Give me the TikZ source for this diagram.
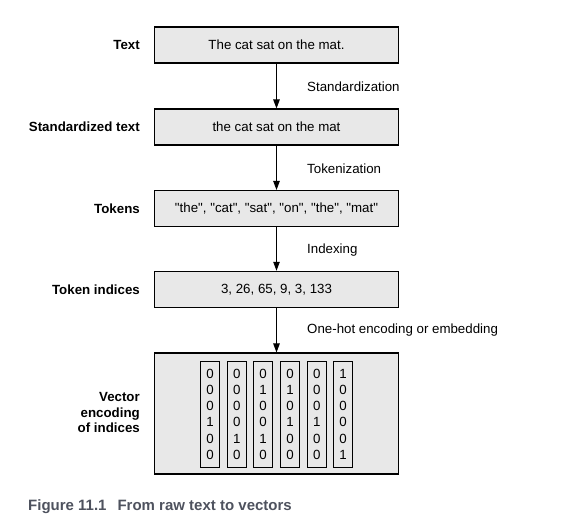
\documentclass[tikz,border=0pt]{standalone}
\usepackage{fontspec}
\setmainfont{Liberation Sans}
\usetikzlibrary{arrows.meta}
\definecolor{boxfill}{RGB}{232,232,232}
\definecolor{capcol}{RGB}{78,82,94}
\newcommand{\qq}[1]{\textquotedbl#1\textquotedbl}
\tikzset{
  stagebox/.style={draw=black, fill=boxfill, line width=1.1pt, minimum width=244pt, minimum height=36pt, inner sep=0pt, font=\fontsize{13.3}{16}\selectfont},
  stagelabel/.style={anchor=east, inner sep=0pt, font=\bfseries\fontsize{13.3}{16}\selectfont, align=right},
  steplabel/.style={anchor=west, inner sep=0pt, font=\fontsize{13.3}{16}\selectfont},
  flow/.style={line width=0.9pt, -{Triangle[length=9pt,width=6.5pt]}},
  vcol/.style={draw=black, line width=1.1pt, minimum width=18.7pt, minimum height=106pt, inner sep=0pt, align=center, font=\fontsize{13.3}{16.2}\selectfont}
}
\begin{document}
\begin{tikzpicture}[x=1pt,y=-1pt]
\useasboundingbox (0,0) rectangle (562,525);
% boxes
\node[stagebox] (b1) at (276.5,45) {The cat sat on the mat.};
\node[stagebox] (b2) at (276.5,127) {the cat sat on the mat};
\node[stagebox] (b3) at (276.5,208.5) {\qq{the}, \qq{cat}, \qq{sat}, \qq{on}, \qq{the}, \qq{mat}};
\node[stagebox] (b4) at (276.5,289.3) {3, 26, 65, 9, 3, 133};
\node[stagebox, minimum height=121pt] (b5) at (276.5,413.5) {};
% columns
\node[vcol] (c1) at (210,414.2) {0\\0\\0\\1\\0\\0};
\node[vcol] (c2) at (236.7,414.2) {0\\0\\0\\0\\1\\0};
\node[vcol] (c3) at (263,414.2) {0\\1\\0\\0\\1\\0};
\node[vcol] (c4) at (290,414.2) {0\\1\\0\\1\\0\\0};
\node[vcol] (c5) at (316.7,414.2) {0\\0\\0\\1\\0\\0};
\node[vcol] (c6) at (343,414.2) {1\\0\\0\\0\\0\\1};
% left labels
\node[stagelabel] (l1) at (140,45) {Text};
\node[stagelabel] (l2) at (140,127) {Standardized text};
\node[stagelabel] (l3) at (140,208.5) {Tokens};
\node[stagelabel] (l4) at (140,289.3) {Token indices};
\node[stagelabel, font=\bfseries\fontsize{13.3}{15.5}\selectfont] (l5) at (140,412.5) {Vector\\encoding\\of indices};
% arrows
\draw[flow] (b1) -- (b2);
\draw[flow] (b2) -- (b3);
\draw[flow] (b3) -- (b4);
\draw[flow] (b4) -- (b5);
% step labels
\node[steplabel] (s1) at (307,87) {Standardization};
\node[steplabel] (s2) at (307,168.5) {Tokenization};
\node[steplabel] (s3) at (307,250) {Indexing};
\node[steplabel] (s4) at (307,330) {One-hot encoding or embedding};
% caption
\node[anchor=west, inner sep=0pt, text=capcol, font=\bfseries\fontsize{15}{17}\selectfont] (cap) at (28,507) {Figure 11.1\hspace{11pt}From raw text to vectors};
\end{tikzpicture}
\end{document}
